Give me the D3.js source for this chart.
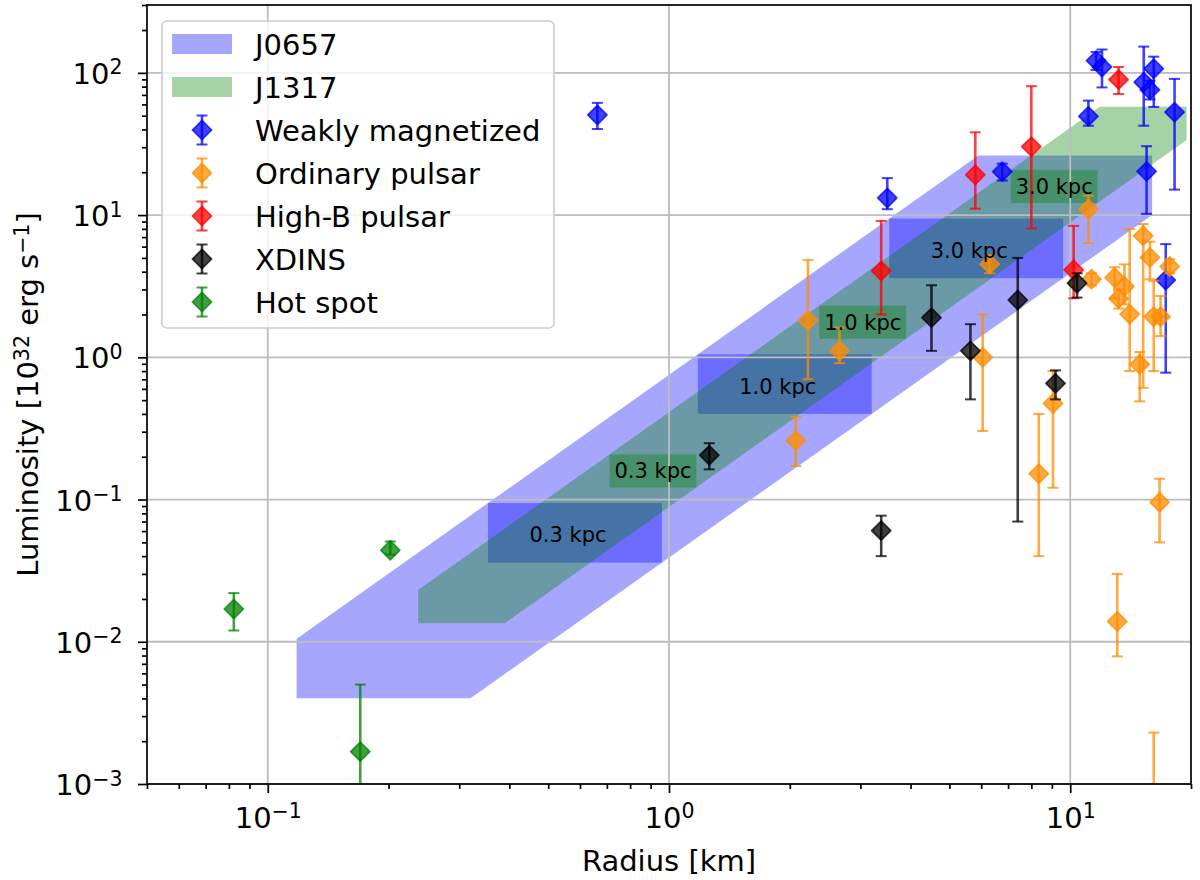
<!DOCTYPE html>
<html>
<head>
<meta charset="utf-8">
<script src="https://cdn.jsdelivr.net/npm/d3@7"></script>
<style>
  body { margin: 0; background: #fff; }
  text { font-family: "DejaVu Sans", sans-serif; }
</style>
</head>
<body>
<svg id="chart"></svg>
<script>
// ---- data ----
// emission-region bands: radius and luminosity range at 1 kpc, scaled by d and d^2
const bandNames = ["J0657", "J1317"];
const bandColors = ["#0000ff", "#008000"];
const bandRadius1kpc = [[1.18, 3.2], [2.37, 3.9]];
const bandLum1kpc = [[0.40, 1.05], [1.35, 2.31]];
const bandDistRange = [[0.1, 5], [0.1, 5]];
const labelDistances = [0.3, 1.0, 3.0];

// [radius km, luminosity, lower end of error bar, upper end of error bar]
const weaklyMagnetized = [
  [0.663, 50.6, 40.3, 61.5],
  [3.50, 13.2, 11.0, 18.2],
  [6.77, 20.2, 17.5, 23.0],
  [11.1, 49.5, 42.5, 63.8],
  [11.6, 122, 105, 140],
  [12.0, 110, 79, 146],
  [15.25, 86, 42.5, 153],
  [16.15, 107, 57.6, 130],
  [15.8, 76, 65, 88],
  [18.2, 52.9, 15.1, 90.7],
  [15.5, 20.3, 10.2, 30.5],
  [17.3, 3.49, 0.78, 6.25]
];
const ordinaryPulsar = [
  [2.07, 0.26, 0.172, 0.382],
  [2.22, 1.82, 0.70, 4.84],
  [2.66, 1.11, 0.91, 1.62],
  [6.05, 1.0, 0.303, 2.0],
  [6.3, 4.52, 3.9, 5.2],
  [11.1, 11.0, 6.35, 13.7],
  [11.3, 3.54, 3.2, 3.9],
  [12.9, 3.64, 2.6, 4.3],
  [13.65, 3.15, 2.36, 4.5],
  [13.2, 2.59, 2.2, 3.0],
  [14.07, 2.01, 0.80, 7.97],
  [15.2, 7.15, 0.61, 8.65],
  [15.8, 5.04, 3.54, 6.5],
  [14.9, 0.893, 0.49, 1.09],
  [16.15, 1.93, 0.80, 3.45],
  [16.8, 1.93, 1.41, 2.7],
  [17.7, 4.35, 3.9, 4.9],
  [9.06, 0.474, 0.121, 0.80],
  [8.35, 0.152, 0.040, 0.40],
  [16.7, 0.0957, 0.05, 0.14],
  [13.1, 0.0139, 0.0079, 0.030],
  [16.15, 0.0004, 0.0001, 0.0023]
];
const highBPulsar = [
  [3.38, 4.05, 2.0, 9.1],
  [5.8, 19.2, 11.1, 38.2],
  [8.0, 30.3, 8.06, 80.6],
  [13.2, 89.7, 71, 110],
  [10.2, 4.12, 2.6, 8.4]
];
const xdins = [
  [1.26, 0.205, 0.163, 0.249],
  [3.38, 0.0605, 0.040, 0.077],
  [4.51, 1.9, 1.11, 3.21],
  [5.64, 1.11, 0.506, 1.71],
  [7.4, 2.53, 0.070, 5.0],
  [10.4, 3.32, 2.63, 3.9],
  [9.19, 0.656, 0.506, 0.81]
];
const hotSpot = [
  [0.0823, 0.0170, 0.012, 0.022],
  [0.170, 0.00169, 0.0003, 0.005],
  [0.202, 0.044, 0.041, 0.0507]
];

const seriesNames = ["Weakly magnetized", "Ordinary pulsar", "High-B pulsar", "XDINS", "Hot spot"];
const seriesColors = ["#0000ff", "#ff8c00", "#ff0000", "#000000", "#008000"];
const seriesData = [weaklyMagnetized, ordinaryPulsar, highBPulsar, xdins, hotSpot];

const xDomain = [0.05, 20];
const yDomain = [1e-3, 300];

// ---- layout ----
const W = 1200, H = 880;
const plot = { left: 147, right: 1191, top: 5, bottom: 784 };
const fontMain = 29, fontSup = 20.5, fontLabel = 21;
const markAlpha = 0.75, bandAlpha = 0.35;

const x = d3.scaleLog().domain(xDomain).range([plot.left, plot.right]);
const y = d3.scaleLog().domain(yDomain).range([plot.bottom, plot.top]);

const svg = d3.select("#chart").attr("width", W).attr("height", H);
svg.append("defs").append("clipPath").attr("id", "plot-clip")
  .append("rect")
  .attr("x", plot.left).attr("y", plot.top)
  .attr("width", plot.right - plot.left).attr("height", plot.bottom - plot.top);

const isMajor = v => Math.abs(Math.log10(v) - Math.round(Math.log10(v))) < 1e-9;
const xTicks = x.ticks().filter(v => v >= xDomain[0] && v <= xDomain[1] * 1.0001);
const yTicks = y.ticks().filter(v => v >= yDomain[0] && v <= yDomain[1] * 1.0001);
const xMajor = xTicks.filter(isMajor), xMinor = xTicks.filter(v => !isMajor(v));
const yMajor = yTicks.filter(isMajor), yMinor = yTicks.filter(v => !isMajor(v));

// ---- bands and distance boxes ----
const bandG = svg.append("g").attr("clip-path", "url(#plot-clip)");
const line = d3.line().x(d => x(d[0])).y(d => y(d[1]));
const boxes = [];
bandNames.forEach((name, i) => {
  const [r0, r1] = bandRadius1kpc[i];
  const [l0, l1] = bandLum1kpc[i];
  const [d0, d1] = bandDistRange[i];
  const poly = [
    [r0 * d0, l0 * d0 * d0], [r1 * d0, l0 * d0 * d0], [r1 * d1, l0 * d1 * d1],
    [r1 * d1, l1 * d1 * d1], [r0 * d1, l1 * d1 * d1], [r0 * d0, l1 * d0 * d0]
  ];
  bandG.append("path")
    .attr("d", line(poly) + "Z")
    .attr("fill", bandColors[i])
    .attr("fill-opacity", bandAlpha);

  const rects = labelDistances.map(d => ({
    band: i, d,
    x0: x(r0 * d), x1: x(r1 * d),
    y0: y(l1 * d * d), y1: y(l0 * d * d),
    cx: x(Math.sqrt(r0 * r1) * d), cy: y(Math.sqrt(l0 * l1) * d * d)
  }));
  bandG.selectAll(null).data(rects).join("rect")
    .attr("x", b => b.x0).attr("y", b => b.y0)
    .attr("width", b => b.x1 - b.x0).attr("height", b => b.y1 - b.y0)
    .attr("fill", bandColors[i])
    .attr("fill-opacity", bandAlpha);
  boxes.push(...rects);
});

// ---- grid ----
const grid = svg.append("g").attr("stroke", "#bdbdbd").attr("stroke-width", 1.8);
grid.selectAll(null).data(xMajor).join("line")
  .attr("x1", d => x(d)).attr("x2", d => x(d))
  .attr("y1", plot.top).attr("y2", plot.bottom);
grid.selectAll(null).data(yMajor).join("line")
  .attr("y1", d => y(d)).attr("y2", d => y(d))
  .attr("x1", plot.left).attr("x2", plot.right);

// ---- error bars and markers ----
const diamond = (cx, cy, r) => `M${cx},${cy - r}L${cx + r},${cy}L${cx},${cy + r}L${cx - r},${cy}Z`;
const markR = 9.6, capHalf = 5.5;

function drawErrorMark(g, cx, cyMid, cyLo, cyHi, color) {
  g.append("line")
    .attr("x1", cx).attr("x2", cx).attr("y1", cyLo).attr("y2", cyHi)
    .attr("stroke", color).attr("stroke-opacity", markAlpha).attr("stroke-width", 2.6);
  [cyLo, cyHi].forEach(cy => g.append("line")
    .attr("x1", cx - capHalf).attr("x2", cx + capHalf).attr("y1", cy).attr("y2", cy)
    .attr("stroke", color).attr("stroke-opacity", markAlpha).attr("stroke-width", 2));
  g.append("path")
    .attr("d", diamond(cx, cyMid, markR))
    .attr("fill", color).attr("fill-opacity", markAlpha)
    .attr("stroke", color).attr("stroke-opacity", markAlpha)
    .attr("stroke-width", 1.7).attr("stroke-linejoin", "round");
}

const marks = svg.append("g").attr("clip-path", "url(#plot-clip)");
seriesData.forEach((rows, i) => {
  rows.forEach(([r, l, lo, hi]) => {
    drawErrorMark(marks, x(r), y(l), y(lo), y(hi), seriesColors[i]);
  });
});

// ---- distance labels ----
svg.append("g").selectAll("text").data(boxes).join("text")
  .attr("x", b => b.band === 0 ? b.cx - 7 : b.cx)
  .attr("y", b => (b.band === 0 ? (b.y0 + b.y1) / 2 + 9.5 : (b.y0 + b.y1) / 2 + 7.5))
  .attr("text-anchor", "middle")
  .attr("font-size", fontLabel)
  .attr("fill", "#000")
  .text(b => `${b.d.toFixed(1)} kpc`);

// ---- axes ----
function powLabel(sel, v) {
  const e = Math.round(Math.log10(v));
  sel.text(null);
  sel.append("tspan").text("10");
  sel.append("tspan").attr("dy", -9.5).attr("font-size", fontSup)
    .text(e < 0 ? "\u2212" + (-e) : String(e));
}

const xAxisG = svg.append("g").attr("transform", `translate(0,${plot.bottom})`);
xAxisG.call(d3.axisBottom(x).tickValues(xMinor).tickSize(5).tickSizeOuter(0).tickFormat(""));
xAxisG.call(g => g.select(".domain").remove());
const xMajG = svg.append("g").attr("transform", `translate(0,${plot.bottom})`)
  .call(d3.axisBottom(x).tickValues(xMajor).tickSize(9).tickSizeOuter(0));
xMajG.select(".domain").remove();
xMajG.selectAll(".tick text")
  .attr("y", 43.5).attr("dy", null)
  .attr("font-size", fontMain).attr("font-family", "DejaVu Sans").attr("fill", "#000")
  .each(function (d) { powLabel(d3.select(this), d); });

const yAxisG = svg.append("g").attr("transform", `translate(${plot.left},0)`);
yAxisG.call(d3.axisLeft(y).tickValues(yMinor).tickSize(5).tickSizeOuter(0).tickFormat(""));
yAxisG.select(".domain").remove();
const yMajG = svg.append("g").attr("transform", `translate(${plot.left},0)`)
  .call(d3.axisLeft(y).tickValues(yMajor).tickSize(9).tickSizeOuter(0));
yMajG.select(".domain").remove();
yMajG.selectAll(".tick text")
  .attr("x", -24.5).attr("y", 10.6).attr("dy", null)
  .attr("font-size", fontMain).attr("font-family", "DejaVu Sans").attr("fill", "#000")
  .each(function (d) { powLabel(d3.select(this), d); });

svg.selectAll(".tick line").attr("stroke", "#000").attr("stroke-width", 1.7);

// spines
svg.append("rect")
  .attr("x", plot.left).attr("y", plot.top)
  .attr("width", plot.right - plot.left).attr("height", plot.bottom - plot.top)
  .attr("fill", "none").attr("stroke", "#000").attr("stroke-width", 1.7);

// axis titles
svg.append("text")
  .attr("x", (plot.left + plot.right) / 2).attr("y", 871)
  .attr("text-anchor", "middle").attr("font-size", fontMain)
  .text("Radius [km]");

const yTitle = svg.append("text")
  .attr("transform", `translate(38,${(plot.top + plot.bottom) / 2}) rotate(-90)`)
  .attr("text-anchor", "middle").attr("font-size", fontMain);
yTitle.append("tspan").text("Luminosity [10");
yTitle.append("tspan").attr("dy", -9.5).attr("font-size", fontSup).text("32");
yTitle.append("tspan").attr("dy", 9.5).text(" erg s");
yTitle.append("tspan").attr("dy", -9.5).attr("font-size", fontSup).text("\u22121");
yTitle.append("tspan").attr("dy", 9.5).text("]");

// ---- legend ----
const legend = svg.append("g");
legend.append("rect")
  .attr("x", 162).attr("y", 21).attr("width", 392).attr("height", 307).attr("rx", 5)
  .attr("fill", "#fff").attr("fill-opacity", 0.8)
  .attr("stroke", "#cccccc").attr("stroke-width", 1.6);

const legendItems = [
  ...bandNames.map((n, i) => ({ label: n, kind: "band", color: bandColors[i] })),
  ...seriesNames.map((n, i) => ({ label: n, kind: "mark", color: seriesColors[i] }))
];
const rowY0 = 44, rowStep = 43;
legendItems.forEach((it, k) => {
  const cy = rowY0 + k * rowStep;
  if (it.kind === "band") {
    legend.append("rect")
      .attr("x", 172).attr("y", cy - 10).attr("width", 60).attr("height", 20)
      .attr("fill", it.color).attr("fill-opacity", bandAlpha);
  } else {
    drawErrorMark(legend, 202, cy, cy + 14.5, cy - 14.5, it.color);
  }
  legend.append("text")
    .attr("x", 255).attr("y", cy + 11)
    .attr("font-size", fontMain).attr("fill", "#000")
    .text(it.label);
});
</script>
</body>
</html>
